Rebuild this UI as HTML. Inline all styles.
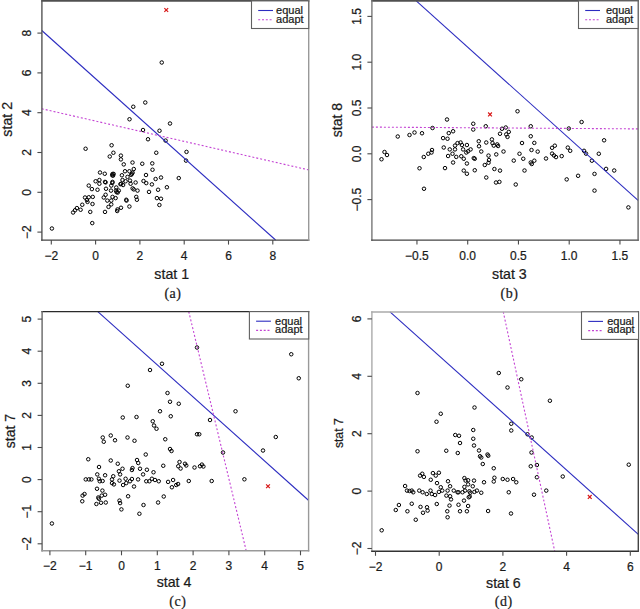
<!DOCTYPE html><html><head><meta charset="utf-8"><style>html,body{margin:0;padding:0;background:#fff;}svg{display:block;}text{stroke:#1a1a1a;stroke-width:0.22px;}</style></head><body><svg width="640" height="609" viewBox="0 0 640 609"><rect width="640" height="609" fill="#fff"/><g><g fill="none" stroke="#000" stroke-width="1.0"><circle cx="161.75" cy="62.50" r="1.75"/><circle cx="133.25" cy="106.75" r="1.75"/><circle cx="145.25" cy="102.50" r="1.75"/><circle cx="129.50" cy="119.25" r="1.75"/><circle cx="170.00" cy="123.50" r="1.75"/><circle cx="143.00" cy="130.00" r="1.75"/><circle cx="159.50" cy="130.75" r="1.75"/><circle cx="148.00" cy="139.25" r="1.75"/><circle cx="165.60" cy="140.60" r="1.75"/><circle cx="85.60" cy="148.75" r="1.75"/><circle cx="111.60" cy="145.25" r="1.75"/><circle cx="113.40" cy="152.75" r="1.75"/><circle cx="109.75" cy="156.50" r="1.75"/><circle cx="120.90" cy="155.60" r="1.75"/><circle cx="120.90" cy="159.40" r="1.75"/><circle cx="123.75" cy="164.40" r="1.75"/><circle cx="132.50" cy="162.50" r="1.75"/><circle cx="133.75" cy="169.00" r="1.75"/><circle cx="100.00" cy="172.50" r="1.75"/><circle cx="104.75" cy="173.75" r="1.75"/><circle cx="112.50" cy="174.00" r="1.75"/><circle cx="113.10" cy="175.60" r="1.75"/><circle cx="121.90" cy="175.25" r="1.75"/><circle cx="125.00" cy="171.25" r="1.75"/><circle cx="129.40" cy="171.25" r="1.75"/><circle cx="131.90" cy="173.75" r="1.75"/><circle cx="127.50" cy="176.90" r="1.75"/><circle cx="95.60" cy="181.25" r="1.75"/><circle cx="99.40" cy="180.00" r="1.75"/><circle cx="99.40" cy="183.75" r="1.75"/><circle cx="105.00" cy="181.90" r="1.75"/><circle cx="112.50" cy="181.90" r="1.75"/><circle cx="111.25" cy="185.60" r="1.75"/><circle cx="122.50" cy="180.00" r="1.75"/><circle cx="125.60" cy="181.25" r="1.75"/><circle cx="121.25" cy="183.75" r="1.75"/><circle cx="123.10" cy="185.00" r="1.75"/><circle cx="130.00" cy="180.60" r="1.75"/><circle cx="130.60" cy="183.75" r="1.75"/><circle cx="135.60" cy="182.50" r="1.75"/><circle cx="88.75" cy="185.60" r="1.75"/><circle cx="91.90" cy="189.10" r="1.75"/><circle cx="97.50" cy="189.75" r="1.75"/><circle cx="106.00" cy="188.75" r="1.75"/><circle cx="111.00" cy="190.60" r="1.75"/><circle cx="116.00" cy="190.60" r="1.75"/><circle cx="117.75" cy="192.50" r="1.75"/><circle cx="116.25" cy="187.50" r="1.75"/><circle cx="133.75" cy="189.40" r="1.75"/><circle cx="137.50" cy="190.60" r="1.75"/><circle cx="85.00" cy="197.50" r="1.75"/><circle cx="88.75" cy="197.25" r="1.75"/><circle cx="92.75" cy="196.90" r="1.75"/><circle cx="105.60" cy="194.75" r="1.75"/><circle cx="103.75" cy="197.50" r="1.75"/><circle cx="112.50" cy="196.90" r="1.75"/><circle cx="115.60" cy="198.10" r="1.75"/><circle cx="126.25" cy="199.75" r="1.75"/><circle cx="136.25" cy="196.90" r="1.75"/><circle cx="156.25" cy="152.75" r="1.75"/><circle cx="186.50" cy="151.90" r="1.75"/><circle cx="186.00" cy="160.60" r="1.75"/><circle cx="142.25" cy="163.75" r="1.75"/><circle cx="152.25" cy="163.40" r="1.75"/><circle cx="152.50" cy="169.75" r="1.75"/><circle cx="146.00" cy="175.00" r="1.75"/><circle cx="155.60" cy="179.00" r="1.75"/><circle cx="161.00" cy="177.50" r="1.75"/><circle cx="178.75" cy="178.10" r="1.75"/><circle cx="143.50" cy="181.00" r="1.75"/><circle cx="146.25" cy="183.10" r="1.75"/><circle cx="151.90" cy="184.40" r="1.75"/><circle cx="166.90" cy="187.25" r="1.75"/><circle cx="158.10" cy="189.75" r="1.75"/><circle cx="149.00" cy="191.90" r="1.75"/><circle cx="156.90" cy="198.10" r="1.75"/><circle cx="161.00" cy="198.75" r="1.75"/><circle cx="51.90" cy="228.50" r="1.75"/><circle cx="92.25" cy="223.10" r="1.75"/><circle cx="90.25" cy="211.90" r="1.75"/><circle cx="105.00" cy="211.90" r="1.75"/><circle cx="73.10" cy="212.50" r="1.75"/><circle cx="75.00" cy="210.25" r="1.75"/><circle cx="76.90" cy="208.10" r="1.75"/><circle cx="80.60" cy="209.75" r="1.75"/><circle cx="82.25" cy="204.75" r="1.75"/><circle cx="92.50" cy="204.00" r="1.75"/><circle cx="87.50" cy="201.90" r="1.75"/><circle cx="107.30" cy="200.60" r="1.75"/><circle cx="111.25" cy="204.40" r="1.75"/><circle cx="108.50" cy="206.90" r="1.75"/><circle cx="117.50" cy="209.40" r="1.75"/><circle cx="86.90" cy="200.00" r="1.75"/><circle cx="117.20" cy="211.00" r="1.75"/><circle cx="121.00" cy="207.75" r="1.75"/><circle cx="129.40" cy="206.50" r="1.75"/><circle cx="126.50" cy="200.60" r="1.75"/><circle cx="136.90" cy="199.75" r="1.75"/><circle cx="111.25" cy="200.60" r="1.75"/><circle cx="159.40" cy="205.00" r="1.75"/><circle cx="112.20" cy="175.30" r="1.75"/><circle cx="113.60" cy="173.90" r="1.75"/><circle cx="131.20" cy="174.80" r="1.75"/><circle cx="132.60" cy="172.60" r="1.75"/><circle cx="116.60" cy="192.20" r="1.75"/><circle cx="118.80" cy="190.60" r="1.75"/><circle cx="112.30" cy="182.90" r="1.75"/><circle cx="105.60" cy="182.40" r="1.75"/><circle cx="132.60" cy="188.40" r="1.75"/><circle cx="120.40" cy="184.20" r="1.75"/></g><line x1="41.8" y1="30.5" x2="275.6" y2="240.0" stroke="#2c2cc0" stroke-width="1.1"/><line x1="41.8" y1="108.75" x2="308.6" y2="169.9" stroke="#c444d4" stroke-width="1.1" stroke-dasharray="2 2"/><path d="M164.35,8.1L168.15,11.9M164.35,11.9L168.15,8.1" stroke="#d81818" stroke-width="1.2"/><path d="M41.199999999999996,0.9H309.4" stroke="#505050" stroke-width="1.9"/><path d="M41.9,0.20000000000000007V240.79999999999998" stroke="#555" stroke-width="1.4"/><path d="M41.199999999999996,240.1H309.4" stroke="#444" stroke-width="1.4"/><path d="M308.7,0.20000000000000007V240.79999999999998" stroke="#999" stroke-width="1.4"/><line x1="51.30" y1="240.1" x2="51.30" y2="244.6" stroke="#4a4a4a" stroke-width="1.1"/><text x="51.30" y="259.70" font-family='"Liberation Sans", sans-serif' font-size="12" text-anchor="middle" fill="#1a1a1a">−2</text><line x1="95.60" y1="240.1" x2="95.60" y2="244.6" stroke="#4a4a4a" stroke-width="1.1"/><text x="95.60" y="259.70" font-family='"Liberation Sans", sans-serif' font-size="12" text-anchor="middle" fill="#1a1a1a">0</text><line x1="139.90" y1="240.1" x2="139.90" y2="244.6" stroke="#4a4a4a" stroke-width="1.1"/><text x="139.90" y="259.70" font-family='"Liberation Sans", sans-serif' font-size="12" text-anchor="middle" fill="#1a1a1a">2</text><line x1="184.20" y1="240.1" x2="184.20" y2="244.6" stroke="#4a4a4a" stroke-width="1.1"/><text x="184.20" y="259.70" font-family='"Liberation Sans", sans-serif' font-size="12" text-anchor="middle" fill="#1a1a1a">4</text><line x1="228.50" y1="240.1" x2="228.50" y2="244.6" stroke="#4a4a4a" stroke-width="1.1"/><text x="228.50" y="259.70" font-family='"Liberation Sans", sans-serif' font-size="12" text-anchor="middle" fill="#1a1a1a">6</text><line x1="272.80" y1="240.1" x2="272.80" y2="244.6" stroke="#4a4a4a" stroke-width="1.1"/><text x="272.80" y="259.70" font-family='"Liberation Sans", sans-serif' font-size="12" text-anchor="middle" fill="#1a1a1a">8</text><line x1="37.4" y1="232.10" x2="41.9" y2="232.10" stroke="#4a4a4a" stroke-width="1.1"/><text transform="translate(30.5,232.10) rotate(-90)" font-family='"Liberation Sans", sans-serif' font-size="12" text-anchor="middle" fill="#1a1a1a">−2</text><line x1="37.4" y1="192.30" x2="41.9" y2="192.30" stroke="#4a4a4a" stroke-width="1.1"/><text transform="translate(30.5,192.30) rotate(-90)" font-family='"Liberation Sans", sans-serif' font-size="12" text-anchor="middle" fill="#1a1a1a">0</text><line x1="37.4" y1="152.50" x2="41.9" y2="152.50" stroke="#4a4a4a" stroke-width="1.1"/><text transform="translate(30.5,152.50) rotate(-90)" font-family='"Liberation Sans", sans-serif' font-size="12" text-anchor="middle" fill="#1a1a1a">2</text><line x1="37.4" y1="112.70" x2="41.9" y2="112.70" stroke="#4a4a4a" stroke-width="1.1"/><text transform="translate(30.5,112.70) rotate(-90)" font-family='"Liberation Sans", sans-serif' font-size="12" text-anchor="middle" fill="#1a1a1a">4</text><line x1="37.4" y1="72.90" x2="41.9" y2="72.90" stroke="#4a4a4a" stroke-width="1.1"/><text transform="translate(30.5,72.90) rotate(-90)" font-family='"Liberation Sans", sans-serif' font-size="12" text-anchor="middle" fill="#1a1a1a">6</text><line x1="37.4" y1="33.10" x2="41.9" y2="33.10" stroke="#4a4a4a" stroke-width="1.1"/><text transform="translate(30.5,33.10) rotate(-90)" font-family='"Liberation Sans", sans-serif' font-size="12" text-anchor="middle" fill="#1a1a1a">8</text><text x="171.7" y="279.2" font-family='"Liberation Sans", sans-serif' font-size="14.2" text-anchor="middle" fill="#1a1a1a">stat 1</text><text x="172.9" y="297.5" font-family='"Liberation Serif", serif' font-size="14" letter-spacing="0.5" text-anchor="middle" fill="#1a1a1a">(a)</text><text transform="translate(12.2,119.3) rotate(-90)" font-family='"Liberation Sans", sans-serif' font-size="14.2" text-anchor="middle" fill="#1a1a1a">stat 2</text><rect x="251.5" y="0.9" width="57.19999999999999" height="27.6" fill="#fff" stroke="#606060" stroke-width="1.1"/><line x1="258.2" y1="10.5" x2="273.0" y2="10.5" stroke="#2c2cc0" stroke-width="1.1"/><line x1="258.2" y1="19.7" x2="273.0" y2="19.7" stroke="#c444d4" stroke-width="1.1" stroke-dasharray="2 1.8"/><text x="276.09999999999997" y="13.9" font-family='"Liberation Sans", sans-serif' font-size="11" fill="#1a1a1a">equal</text><text x="276.09999999999997" y="22.5" font-family='"Liberation Sans", sans-serif' font-size="11" fill="#1a1a1a">adapt</text></g><g><g fill="none" stroke="#000" stroke-width="1.0"><circle cx="381.50" cy="159.25" r="1.75"/><circle cx="384.50" cy="152.00" r="1.75"/><circle cx="387.00" cy="155.00" r="1.75"/><circle cx="397.75" cy="136.50" r="1.75"/><circle cx="409.50" cy="135.00" r="1.75"/><circle cx="414.50" cy="132.50" r="1.75"/><circle cx="422.00" cy="133.25" r="1.75"/><circle cx="432.50" cy="128.00" r="1.75"/><circle cx="447.00" cy="119.50" r="1.75"/><circle cx="419.50" cy="168.25" r="1.75"/><circle cx="424.00" cy="188.75" r="1.75"/><circle cx="423.75" cy="157.00" r="1.75"/><circle cx="428.25" cy="153.75" r="1.75"/><circle cx="431.50" cy="152.50" r="1.75"/><circle cx="432.00" cy="150.00" r="1.75"/><circle cx="473.25" cy="123.75" r="1.75"/><circle cx="473.25" cy="129.50" r="1.75"/><circle cx="485.75" cy="126.25" r="1.75"/><circle cx="502.00" cy="128.75" r="1.75"/><circle cx="505.75" cy="127.50" r="1.75"/><circle cx="517.50" cy="111.25" r="1.75"/><circle cx="522.00" cy="143.00" r="1.75"/><circle cx="519.50" cy="153.75" r="1.75"/><circle cx="523.25" cy="158.75" r="1.75"/><circle cx="524.50" cy="170.50" r="1.75"/><circle cx="515.75" cy="184.50" r="1.75"/><circle cx="530.75" cy="126.25" r="1.75"/><circle cx="530.75" cy="136.25" r="1.75"/><circle cx="531.50" cy="150.00" r="1.75"/><circle cx="530.75" cy="162.50" r="1.75"/><circle cx="453.10" cy="131.25" r="1.75"/><circle cx="448.75" cy="133.10" r="1.75"/><circle cx="443.10" cy="138.10" r="1.75"/><circle cx="447.50" cy="138.75" r="1.75"/><circle cx="443.75" cy="147.50" r="1.75"/><circle cx="449.75" cy="149.40" r="1.75"/><circle cx="455.00" cy="145.60" r="1.75"/><circle cx="457.50" cy="143.10" r="1.75"/><circle cx="460.60" cy="142.50" r="1.75"/><circle cx="461.90" cy="145.00" r="1.75"/><circle cx="466.90" cy="145.00" r="1.75"/><circle cx="455.00" cy="149.40" r="1.75"/><circle cx="463.10" cy="149.40" r="1.75"/><circle cx="466.25" cy="152.50" r="1.75"/><circle cx="470.60" cy="149.40" r="1.75"/><circle cx="468.10" cy="151.25" r="1.75"/><circle cx="452.50" cy="153.75" r="1.75"/><circle cx="448.10" cy="156.00" r="1.75"/><circle cx="456.25" cy="156.90" r="1.75"/><circle cx="461.25" cy="156.25" r="1.75"/><circle cx="463.75" cy="158.75" r="1.75"/><circle cx="453.10" cy="162.50" r="1.75"/><circle cx="466.90" cy="163.50" r="1.75"/><circle cx="473.75" cy="158.10" r="1.75"/><circle cx="474.75" cy="158.75" r="1.75"/><circle cx="445.00" cy="168.10" r="1.75"/><circle cx="463.75" cy="170.60" r="1.75"/><circle cx="466.90" cy="173.75" r="1.75"/><circle cx="474.75" cy="170.25" r="1.75"/><circle cx="478.75" cy="141.25" r="1.75"/><circle cx="479.00" cy="146.25" r="1.75"/><circle cx="481.25" cy="151.50" r="1.75"/><circle cx="486.25" cy="142.50" r="1.75"/><circle cx="491.90" cy="139.40" r="1.75"/><circle cx="492.50" cy="143.10" r="1.75"/><circle cx="493.75" cy="145.60" r="1.75"/><circle cx="497.25" cy="144.40" r="1.75"/><circle cx="498.10" cy="146.00" r="1.75"/><circle cx="488.50" cy="155.60" r="1.75"/><circle cx="489.00" cy="160.00" r="1.75"/><circle cx="488.50" cy="162.75" r="1.75"/><circle cx="484.75" cy="165.00" r="1.75"/><circle cx="496.25" cy="154.40" r="1.75"/><circle cx="503.50" cy="151.50" r="1.75"/><circle cx="494.40" cy="169.00" r="1.75"/><circle cx="500.00" cy="170.60" r="1.75"/><circle cx="486.25" cy="177.50" r="1.75"/><circle cx="496.00" cy="182.50" r="1.75"/><circle cx="499.40" cy="181.90" r="1.75"/><circle cx="500.00" cy="133.75" r="1.75"/><circle cx="506.25" cy="134.40" r="1.75"/><circle cx="508.75" cy="131.90" r="1.75"/><circle cx="507.50" cy="136.90" r="1.75"/><circle cx="513.75" cy="160.60" r="1.75"/><circle cx="534.30" cy="142.90" r="1.75"/><circle cx="537.70" cy="151.60" r="1.75"/><circle cx="531.75" cy="164.00" r="1.75"/><circle cx="534.30" cy="160.70" r="1.75"/><circle cx="546.00" cy="158.50" r="1.75"/><circle cx="552.10" cy="147.80" r="1.75"/><circle cx="554.80" cy="145.70" r="1.75"/><circle cx="552.10" cy="153.60" r="1.75"/><circle cx="554.00" cy="155.50" r="1.75"/><circle cx="556.00" cy="157.10" r="1.75"/><circle cx="561.70" cy="156.10" r="1.75"/><circle cx="566.70" cy="179.40" r="1.75"/><circle cx="567.80" cy="147.60" r="1.75"/><circle cx="570.20" cy="150.80" r="1.75"/><circle cx="568.80" cy="128.50" r="1.75"/><circle cx="581.60" cy="122.00" r="1.75"/><circle cx="578.10" cy="175.80" r="1.75"/><circle cx="584.00" cy="150.80" r="1.75"/><circle cx="586.00" cy="153.60" r="1.75"/><circle cx="591.90" cy="160.70" r="1.75"/><circle cx="598.80" cy="153.75" r="1.75"/><circle cx="604.10" cy="140.30" r="1.75"/><circle cx="594.50" cy="173.90" r="1.75"/><circle cx="594.50" cy="190.60" r="1.75"/><circle cx="606.10" cy="168.90" r="1.75"/><circle cx="614.20" cy="170.50" r="1.75"/><circle cx="628.40" cy="207.40" r="1.75"/></g><line x1="416.25" y1="0.9" x2="638.1" y2="200.3" stroke="#2c2cc0" stroke-width="1.1"/><line x1="371.9" y1="127.1" x2="638.1" y2="128.9" stroke="#c444d4" stroke-width="1.1" stroke-dasharray="2 2"/><path d="M488.1,112.5L491.9,116.30000000000001M488.1,116.30000000000001L491.9,112.5" stroke="#d81818" stroke-width="1.2"/><path d="M371.2,0.9H638.8000000000001" stroke="#505050" stroke-width="1.9"/><path d="M371.9,0.20000000000000007V240.79999999999998" stroke="#777" stroke-width="1.4"/><path d="M371.2,240.1H638.8000000000001" stroke="#444" stroke-width="1.4"/><path d="M638.1,0.20000000000000007V240.79999999999998" stroke="#666" stroke-width="1.4"/><line x1="416.95" y1="240.1" x2="416.95" y2="244.6" stroke="#4a4a4a" stroke-width="1.1"/><text x="416.95" y="259.70" font-family='"Liberation Sans", sans-serif' font-size="12" text-anchor="middle" fill="#1a1a1a">−0.5</text><line x1="467.70" y1="240.1" x2="467.70" y2="244.6" stroke="#4a4a4a" stroke-width="1.1"/><text x="467.70" y="259.70" font-family='"Liberation Sans", sans-serif' font-size="12" text-anchor="middle" fill="#1a1a1a">0.0</text><line x1="518.45" y1="240.1" x2="518.45" y2="244.6" stroke="#4a4a4a" stroke-width="1.1"/><text x="518.45" y="259.70" font-family='"Liberation Sans", sans-serif' font-size="12" text-anchor="middle" fill="#1a1a1a">0.5</text><line x1="569.20" y1="240.1" x2="569.20" y2="244.6" stroke="#4a4a4a" stroke-width="1.1"/><text x="569.20" y="259.70" font-family='"Liberation Sans", sans-serif' font-size="12" text-anchor="middle" fill="#1a1a1a">1.0</text><line x1="619.95" y1="240.1" x2="619.95" y2="244.6" stroke="#4a4a4a" stroke-width="1.1"/><text x="619.95" y="259.70" font-family='"Liberation Sans", sans-serif' font-size="12" text-anchor="middle" fill="#1a1a1a">1.5</text><line x1="367.4" y1="199.60" x2="371.9" y2="199.60" stroke="#4a4a4a" stroke-width="1.1"/><text transform="translate(360.5,199.60) rotate(-90)" font-family='"Liberation Sans", sans-serif' font-size="12" text-anchor="middle" fill="#1a1a1a">−0.5</text><line x1="367.4" y1="153.80" x2="371.9" y2="153.80" stroke="#4a4a4a" stroke-width="1.1"/><text transform="translate(360.5,153.80) rotate(-90)" font-family='"Liberation Sans", sans-serif' font-size="12" text-anchor="middle" fill="#1a1a1a">0.0</text><line x1="367.4" y1="108.00" x2="371.9" y2="108.00" stroke="#4a4a4a" stroke-width="1.1"/><text transform="translate(360.5,108.00) rotate(-90)" font-family='"Liberation Sans", sans-serif' font-size="12" text-anchor="middle" fill="#1a1a1a">0.5</text><line x1="367.4" y1="62.20" x2="371.9" y2="62.20" stroke="#4a4a4a" stroke-width="1.1"/><text transform="translate(360.5,62.20) rotate(-90)" font-family='"Liberation Sans", sans-serif' font-size="12" text-anchor="middle" fill="#1a1a1a">1.0</text><line x1="367.4" y1="16.40" x2="371.9" y2="16.40" stroke="#4a4a4a" stroke-width="1.1"/><text transform="translate(360.5,16.40) rotate(-90)" font-family='"Liberation Sans", sans-serif' font-size="12" text-anchor="middle" fill="#1a1a1a">1.5</text><text x="509.4" y="279.0" font-family='"Liberation Sans", sans-serif' font-size="14.2" text-anchor="middle" fill="#1a1a1a">stat 3</text><text x="509.4" y="297.5" font-family='"Liberation Serif", serif' font-size="14" letter-spacing="0.5" text-anchor="middle" fill="#1a1a1a">(b)</text><text transform="translate(342.0,120.0) rotate(-90)" font-family='"Liberation Sans", sans-serif' font-size="14.0" text-anchor="middle" fill="#1a1a1a">stat 8</text><rect x="578.5" y="0.9" width="59.60000000000002" height="27.6" fill="#fff" stroke="#606060" stroke-width="1.1"/><line x1="585.2" y1="10.5" x2="600.0" y2="10.5" stroke="#2c2cc0" stroke-width="1.1"/><line x1="585.2" y1="19.7" x2="600.0" y2="19.7" stroke="#c444d4" stroke-width="1.1" stroke-dasharray="2 1.8"/><text x="605.9" y="13.9" font-family='"Liberation Sans", sans-serif' font-size="11" fill="#1a1a1a">equal</text><text x="605.9" y="22.5" font-family='"Liberation Sans", sans-serif' font-size="11" fill="#1a1a1a">adapt</text></g><g><g fill="none" stroke="#000" stroke-width="1.0"><circle cx="162.00" cy="363.75" r="1.75"/><circle cx="150.00" cy="370.00" r="1.75"/><circle cx="127.75" cy="385.75" r="1.75"/><circle cx="167.50" cy="393.00" r="1.75"/><circle cx="170.00" cy="401.75" r="1.75"/><circle cx="178.75" cy="403.75" r="1.75"/><circle cx="160.00" cy="411.25" r="1.75"/><circle cx="170.75" cy="416.25" r="1.75"/><circle cx="122.75" cy="417.50" r="1.75"/><circle cx="136.50" cy="417.00" r="1.75"/><circle cx="152.75" cy="421.25" r="1.75"/><circle cx="154.00" cy="425.50" r="1.75"/><circle cx="156.50" cy="428.75" r="1.75"/><circle cx="197.00" cy="434.25" r="1.75"/><circle cx="199.25" cy="434.25" r="1.75"/><circle cx="110.75" cy="435.50" r="1.75"/><circle cx="102.75" cy="437.50" r="1.75"/><circle cx="103.75" cy="441.75" r="1.75"/><circle cx="115.00" cy="440.25" r="1.75"/><circle cx="127.50" cy="437.50" r="1.75"/><circle cx="134.50" cy="440.75" r="1.75"/><circle cx="165.25" cy="439.25" r="1.75"/><circle cx="170.00" cy="449.00" r="1.75"/><circle cx="171.50" cy="451.00" r="1.75"/><circle cx="145.75" cy="454.50" r="1.75"/><circle cx="88.25" cy="459.25" r="1.75"/><circle cx="110.75" cy="460.50" r="1.75"/><circle cx="117.75" cy="463.75" r="1.75"/><circle cx="137.00" cy="460.00" r="1.75"/><circle cx="138.25" cy="463.00" r="1.75"/><circle cx="163.25" cy="465.75" r="1.75"/><circle cx="179.50" cy="462.00" r="1.75"/><circle cx="185.00" cy="463.75" r="1.75"/><circle cx="186.25" cy="465.50" r="1.75"/><circle cx="178.25" cy="466.25" r="1.75"/><circle cx="194.50" cy="467.50" r="1.75"/><circle cx="200.00" cy="466.25" r="1.75"/><circle cx="99.00" cy="467.00" r="1.75"/><circle cx="97.25" cy="474.40" r="1.75"/><circle cx="105.10" cy="475.25" r="1.75"/><circle cx="113.25" cy="476.25" r="1.75"/><circle cx="118.90" cy="471.25" r="1.75"/><circle cx="120.10" cy="474.40" r="1.75"/><circle cx="85.75" cy="479.40" r="1.75"/><circle cx="88.90" cy="479.40" r="1.75"/><circle cx="91.40" cy="479.40" r="1.75"/><circle cx="98.90" cy="478.75" r="1.75"/><circle cx="99.75" cy="481.25" r="1.75"/><circle cx="102.60" cy="481.00" r="1.75"/><circle cx="112.00" cy="479.40" r="1.75"/><circle cx="112.00" cy="483.10" r="1.75"/><circle cx="113.90" cy="484.40" r="1.75"/><circle cx="119.50" cy="480.60" r="1.75"/><circle cx="97.00" cy="488.75" r="1.75"/><circle cx="102.40" cy="490.60" r="1.75"/><circle cx="105.10" cy="494.75" r="1.75"/><circle cx="101.75" cy="495.60" r="1.75"/><circle cx="84.50" cy="494.00" r="1.75"/><circle cx="82.60" cy="495.60" r="1.75"/><circle cx="82.25" cy="501.25" r="1.75"/><circle cx="98.25" cy="497.50" r="1.75"/><circle cx="98.90" cy="498.75" r="1.75"/><circle cx="96.40" cy="504.00" r="1.75"/><circle cx="101.00" cy="502.75" r="1.75"/><circle cx="105.75" cy="502.50" r="1.75"/><circle cx="119.50" cy="500.60" r="1.75"/><circle cx="120.10" cy="503.10" r="1.75"/><circle cx="121.40" cy="509.40" r="1.75"/><circle cx="180.60" cy="468.50" r="1.75"/><circle cx="122.50" cy="468.75" r="1.75"/><circle cx="132.50" cy="468.10" r="1.75"/><circle cx="131.90" cy="470.00" r="1.75"/><circle cx="140.00" cy="468.75" r="1.75"/><circle cx="146.90" cy="469.75" r="1.75"/><circle cx="143.10" cy="474.40" r="1.75"/><circle cx="153.50" cy="472.25" r="1.75"/><circle cx="125.60" cy="478.75" r="1.75"/><circle cx="126.25" cy="483.10" r="1.75"/><circle cx="123.10" cy="485.00" r="1.75"/><circle cx="130.00" cy="481.25" r="1.75"/><circle cx="131.90" cy="479.00" r="1.75"/><circle cx="138.10" cy="479.40" r="1.75"/><circle cx="134.00" cy="486.50" r="1.75"/><circle cx="146.25" cy="481.25" r="1.75"/><circle cx="149.40" cy="481.25" r="1.75"/><circle cx="151.90" cy="478.75" r="1.75"/><circle cx="155.00" cy="480.00" r="1.75"/><circle cx="158.75" cy="481.25" r="1.75"/><circle cx="168.10" cy="481.90" r="1.75"/><circle cx="173.10" cy="480.00" r="1.75"/><circle cx="171.90" cy="487.25" r="1.75"/><circle cx="176.25" cy="485.00" r="1.75"/><circle cx="178.10" cy="484.00" r="1.75"/><circle cx="188.75" cy="481.00" r="1.75"/><circle cx="128.10" cy="496.25" r="1.75"/><circle cx="143.50" cy="505.00" r="1.75"/><circle cx="158.10" cy="502.50" r="1.75"/><circle cx="163.75" cy="496.50" r="1.75"/><circle cx="139.40" cy="513.75" r="1.75"/><circle cx="197.00" cy="347.50" r="1.75"/><circle cx="291.25" cy="354.25" r="1.75"/><circle cx="298.75" cy="378.25" r="1.75"/><circle cx="210.00" cy="420.00" r="1.75"/><circle cx="235.50" cy="411.25" r="1.75"/><circle cx="223.00" cy="452.50" r="1.75"/><circle cx="263.00" cy="450.50" r="1.75"/><circle cx="275.75" cy="437.00" r="1.75"/><circle cx="201.90" cy="464.60" r="1.75"/><circle cx="203.40" cy="466.50" r="1.75"/><circle cx="211.70" cy="481.00" r="1.75"/><circle cx="244.40" cy="479.30" r="1.75"/><circle cx="51.90" cy="523.50" r="1.75"/></g><line x1="97.8" y1="311.6" x2="308.7" y2="500.5" stroke="#2c2cc0" stroke-width="1.1"/><line x1="188.75" y1="311.6" x2="246.3" y2="551.2" stroke="#c444d4" stroke-width="1.1" stroke-dasharray="2 2"/><path d="M266.1,484.40000000000003L269.9,488.2M266.1,488.2L269.9,484.40000000000003" stroke="#d81818" stroke-width="1.2"/><path d="M41.4,311.6H309.3" stroke="#2a2a2a" stroke-width="1.4"/><path d="M42.1,310.90000000000003V551.5" stroke="#666" stroke-width="1.4"/><path d="M41.4,550.8H309.3" stroke="#999" stroke-width="1.4"/><path d="M308.6,310.90000000000003V551.5" stroke="#999" stroke-width="1.4"/><line x1="49.90" y1="550.8" x2="49.90" y2="555.3" stroke="#4a4a4a" stroke-width="1.1"/><text x="49.90" y="570.40" font-family='"Liberation Sans", sans-serif' font-size="12" text-anchor="middle" fill="#1a1a1a">−2</text><line x1="85.70" y1="550.8" x2="85.70" y2="555.3" stroke="#4a4a4a" stroke-width="1.1"/><text x="85.70" y="570.40" font-family='"Liberation Sans", sans-serif' font-size="12" text-anchor="middle" fill="#1a1a1a">−1</text><line x1="121.50" y1="550.8" x2="121.50" y2="555.3" stroke="#4a4a4a" stroke-width="1.1"/><text x="121.50" y="570.40" font-family='"Liberation Sans", sans-serif' font-size="12" text-anchor="middle" fill="#1a1a1a">0</text><line x1="157.30" y1="550.8" x2="157.30" y2="555.3" stroke="#4a4a4a" stroke-width="1.1"/><text x="157.30" y="570.40" font-family='"Liberation Sans", sans-serif' font-size="12" text-anchor="middle" fill="#1a1a1a">1</text><line x1="193.10" y1="550.8" x2="193.10" y2="555.3" stroke="#4a4a4a" stroke-width="1.1"/><text x="193.10" y="570.40" font-family='"Liberation Sans", sans-serif' font-size="12" text-anchor="middle" fill="#1a1a1a">2</text><line x1="228.90" y1="550.8" x2="228.90" y2="555.3" stroke="#4a4a4a" stroke-width="1.1"/><text x="228.90" y="570.40" font-family='"Liberation Sans", sans-serif' font-size="12" text-anchor="middle" fill="#1a1a1a">3</text><line x1="264.70" y1="550.8" x2="264.70" y2="555.3" stroke="#4a4a4a" stroke-width="1.1"/><text x="264.70" y="570.40" font-family='"Liberation Sans", sans-serif' font-size="12" text-anchor="middle" fill="#1a1a1a">4</text><line x1="300.50" y1="550.8" x2="300.50" y2="555.3" stroke="#4a4a4a" stroke-width="1.1"/><text x="300.50" y="570.40" font-family='"Liberation Sans", sans-serif' font-size="12" text-anchor="middle" fill="#1a1a1a">5</text><line x1="37.6" y1="543.80" x2="42.1" y2="543.80" stroke="#4a4a4a" stroke-width="1.1"/><text transform="translate(30.5,543.80) rotate(-90)" font-family='"Liberation Sans", sans-serif' font-size="12" text-anchor="middle" fill="#1a1a1a">−2</text><line x1="37.6" y1="511.70" x2="42.1" y2="511.70" stroke="#4a4a4a" stroke-width="1.1"/><text transform="translate(30.5,511.70) rotate(-90)" font-family='"Liberation Sans", sans-serif' font-size="12" text-anchor="middle" fill="#1a1a1a">−1</text><line x1="37.6" y1="479.60" x2="42.1" y2="479.60" stroke="#4a4a4a" stroke-width="1.1"/><text transform="translate(30.5,479.60) rotate(-90)" font-family='"Liberation Sans", sans-serif' font-size="12" text-anchor="middle" fill="#1a1a1a">0</text><line x1="37.6" y1="447.50" x2="42.1" y2="447.50" stroke="#4a4a4a" stroke-width="1.1"/><text transform="translate(30.5,447.50) rotate(-90)" font-family='"Liberation Sans", sans-serif' font-size="12" text-anchor="middle" fill="#1a1a1a">1</text><line x1="37.6" y1="415.40" x2="42.1" y2="415.40" stroke="#4a4a4a" stroke-width="1.1"/><text transform="translate(30.5,415.40) rotate(-90)" font-family='"Liberation Sans", sans-serif' font-size="12" text-anchor="middle" fill="#1a1a1a">2</text><line x1="37.6" y1="383.30" x2="42.1" y2="383.30" stroke="#4a4a4a" stroke-width="1.1"/><text transform="translate(30.5,383.30) rotate(-90)" font-family='"Liberation Sans", sans-serif' font-size="12" text-anchor="middle" fill="#1a1a1a">3</text><line x1="37.6" y1="351.20" x2="42.1" y2="351.20" stroke="#4a4a4a" stroke-width="1.1"/><text transform="translate(30.5,351.20) rotate(-90)" font-family='"Liberation Sans", sans-serif' font-size="12" text-anchor="middle" fill="#1a1a1a">4</text><line x1="37.6" y1="319.10" x2="42.1" y2="319.10" stroke="#4a4a4a" stroke-width="1.1"/><text transform="translate(30.5,319.10) rotate(-90)" font-family='"Liberation Sans", sans-serif' font-size="12" text-anchor="middle" fill="#1a1a1a">5</text><text x="174.0" y="587.25" font-family='"Liberation Sans", sans-serif' font-size="14.2" text-anchor="middle" fill="#1a1a1a">stat 4</text><text x="177.8" y="605.6" font-family='"Liberation Serif", serif' font-size="14" letter-spacing="0.5" text-anchor="middle" fill="#1a1a1a">(c)</text><text transform="translate(15.0,431.0) rotate(-90)" font-family='"Liberation Sans", sans-serif' font-size="14.0" text-anchor="middle" fill="#1a1a1a">stat 7</text><rect x="249.4" y="311.6" width="59.29999999999998" height="27.399999999999977" fill="#fff" stroke="#606060" stroke-width="1.1"/><line x1="256.1" y1="321.20000000000005" x2="270.9" y2="321.20000000000005" stroke="#2c2cc0" stroke-width="1.1"/><line x1="256.1" y1="330.40000000000003" x2="270.9" y2="330.40000000000003" stroke="#c444d4" stroke-width="1.1" stroke-dasharray="2 1.8"/><text x="275.09999999999997" y="324.6" font-family='"Liberation Sans", sans-serif' font-size="11" fill="#1a1a1a">equal</text><text x="275.09999999999997" y="333.20000000000005" font-family='"Liberation Sans", sans-serif' font-size="11" fill="#1a1a1a">adapt</text></g><g><g fill="none" stroke="#000" stroke-width="1.0"><circle cx="498.75" cy="373.00" r="1.75"/><circle cx="521.25" cy="379.25" r="1.75"/><circle cx="507.50" cy="387.50" r="1.75"/><circle cx="417.50" cy="393.00" r="1.75"/><circle cx="474.50" cy="407.50" r="1.75"/><circle cx="440.75" cy="413.75" r="1.75"/><circle cx="436.50" cy="421.75" r="1.75"/><circle cx="511.25" cy="423.75" r="1.75"/><circle cx="511.25" cy="430.50" r="1.75"/><circle cx="527.50" cy="434.25" r="1.75"/><circle cx="531.70" cy="437.50" r="1.75"/><circle cx="473.25" cy="430.00" r="1.75"/><circle cx="455.25" cy="435.00" r="1.75"/><circle cx="459.00" cy="435.75" r="1.75"/><circle cx="473.25" cy="438.75" r="1.75"/><circle cx="460.00" cy="443.00" r="1.75"/><circle cx="474.00" cy="445.50" r="1.75"/><circle cx="417.50" cy="451.25" r="1.75"/><circle cx="446.25" cy="450.75" r="1.75"/><circle cx="457.75" cy="453.00" r="1.75"/><circle cx="479.00" cy="450.50" r="1.75"/><circle cx="480.00" cy="456.25" r="1.75"/><circle cx="481.25" cy="457.50" r="1.75"/><circle cx="487.50" cy="454.50" r="1.75"/><circle cx="488.25" cy="455.75" r="1.75"/><circle cx="482.75" cy="464.00" r="1.75"/><circle cx="493.75" cy="468.25" r="1.75"/><circle cx="531.50" cy="452.50" r="1.75"/><circle cx="530.75" cy="466.25" r="1.75"/><circle cx="549.90" cy="400.75" r="1.75"/><circle cx="420.10" cy="475.60" r="1.75"/><circle cx="422.25" cy="473.75" r="1.75"/><circle cx="423.90" cy="476.90" r="1.75"/><circle cx="432.90" cy="473.10" r="1.75"/><circle cx="435.75" cy="475.60" r="1.75"/><circle cx="438.90" cy="472.75" r="1.75"/><circle cx="430.75" cy="479.75" r="1.75"/><circle cx="437.00" cy="483.10" r="1.75"/><circle cx="448.00" cy="481.25" r="1.75"/><circle cx="450.10" cy="486.25" r="1.75"/><circle cx="440.75" cy="487.25" r="1.75"/><circle cx="405.10" cy="486.00" r="1.75"/><circle cx="407.00" cy="490.60" r="1.75"/><circle cx="409.50" cy="491.00" r="1.75"/><circle cx="411.75" cy="490.60" r="1.75"/><circle cx="413.25" cy="492.25" r="1.75"/><circle cx="419.25" cy="490.60" r="1.75"/><circle cx="422.60" cy="492.25" r="1.75"/><circle cx="426.75" cy="494.00" r="1.75"/><circle cx="430.50" cy="490.60" r="1.75"/><circle cx="431.75" cy="494.00" r="1.75"/><circle cx="435.10" cy="495.00" r="1.75"/><circle cx="438.90" cy="491.90" r="1.75"/><circle cx="442.25" cy="490.60" r="1.75"/><circle cx="447.60" cy="490.60" r="1.75"/><circle cx="446.40" cy="495.60" r="1.75"/><circle cx="450.10" cy="496.25" r="1.75"/><circle cx="451.00" cy="499.40" r="1.75"/><circle cx="398.90" cy="505.00" r="1.75"/><circle cx="395.75" cy="510.00" r="1.75"/><circle cx="411.75" cy="503.75" r="1.75"/><circle cx="407.40" cy="511.25" r="1.75"/><circle cx="420.50" cy="506.90" r="1.75"/><circle cx="427.00" cy="507.25" r="1.75"/><circle cx="427.60" cy="510.60" r="1.75"/><circle cx="423.00" cy="512.75" r="1.75"/><circle cx="436.75" cy="504.00" r="1.75"/><circle cx="449.50" cy="505.60" r="1.75"/><circle cx="447.25" cy="511.25" r="1.75"/><circle cx="447.60" cy="517.25" r="1.75"/><circle cx="415.75" cy="519.75" r="1.75"/><circle cx="453.75" cy="490.60" r="1.75"/><circle cx="457.50" cy="492.25" r="1.75"/><circle cx="458.50" cy="492.25" r="1.75"/><circle cx="462.50" cy="492.25" r="1.75"/><circle cx="464.40" cy="478.10" r="1.75"/><circle cx="465.60" cy="480.60" r="1.75"/><circle cx="468.10" cy="480.25" r="1.75"/><circle cx="474.00" cy="480.60" r="1.75"/><circle cx="468.10" cy="484.40" r="1.75"/><circle cx="464.40" cy="486.90" r="1.75"/><circle cx="472.75" cy="486.25" r="1.75"/><circle cx="465.00" cy="490.60" r="1.75"/><circle cx="469.40" cy="491.25" r="1.75"/><circle cx="470.25" cy="492.75" r="1.75"/><circle cx="474.40" cy="491.90" r="1.75"/><circle cx="476.90" cy="490.60" r="1.75"/><circle cx="481.25" cy="492.75" r="1.75"/><circle cx="468.75" cy="497.25" r="1.75"/><circle cx="469.75" cy="496.50" r="1.75"/><circle cx="464.00" cy="500.60" r="1.75"/><circle cx="458.50" cy="504.75" r="1.75"/><circle cx="468.10" cy="506.00" r="1.75"/><circle cx="460.00" cy="511.25" r="1.75"/><circle cx="466.90" cy="511.25" r="1.75"/><circle cx="484.00" cy="482.25" r="1.75"/><circle cx="494.40" cy="477.75" r="1.75"/><circle cx="493.75" cy="481.50" r="1.75"/><circle cx="502.75" cy="479.00" r="1.75"/><circle cx="507.50" cy="479.75" r="1.75"/><circle cx="513.10" cy="479.00" r="1.75"/><circle cx="516.25" cy="482.25" r="1.75"/><circle cx="508.75" cy="492.25" r="1.75"/><circle cx="488.10" cy="511.00" r="1.75"/><circle cx="511.00" cy="513.50" r="1.75"/><circle cx="628.75" cy="464.70" r="1.75"/><circle cx="536.90" cy="465.00" r="1.75"/><circle cx="536.90" cy="477.25" r="1.75"/><circle cx="562.75" cy="476.50" r="1.75"/><circle cx="546.25" cy="490.60" r="1.75"/><circle cx="534.00" cy="494.70" r="1.75"/><circle cx="381.70" cy="530.30" r="1.75"/></g><line x1="390.0" y1="311.8" x2="638.6" y2="534.6" stroke="#2c2cc0" stroke-width="1.1"/><line x1="503.25" y1="311.8" x2="554.7" y2="551.2" stroke="#c444d4" stroke-width="1.1" stroke-dasharray="2 2"/><path d="M587.85,495.0L591.65,498.79999999999995M587.85,498.79999999999995L591.65,495.0" stroke="#d81818" stroke-width="1.2"/><path d="M371.2,312.0H639.0" stroke="#aaa" stroke-width="1.4"/><path d="M371.9,311.3V552.0" stroke="#aaa" stroke-width="1.4"/><path d="M371.2,551.3H639.0" stroke="#333" stroke-width="1.4"/><path d="M638.3,311.3V552.0" stroke="#444" stroke-width="1.4"/><line x1="375.50" y1="551.3" x2="375.50" y2="555.8" stroke="#4a4a4a" stroke-width="1.1"/><text x="375.50" y="570.90" font-family='"Liberation Sans", sans-serif' font-size="12" text-anchor="middle" fill="#1a1a1a">−2</text><line x1="439.20" y1="551.3" x2="439.20" y2="555.8" stroke="#4a4a4a" stroke-width="1.1"/><text x="439.20" y="570.90" font-family='"Liberation Sans", sans-serif' font-size="12" text-anchor="middle" fill="#1a1a1a">0</text><line x1="502.90" y1="551.3" x2="502.90" y2="555.8" stroke="#4a4a4a" stroke-width="1.1"/><text x="502.90" y="570.90" font-family='"Liberation Sans", sans-serif' font-size="12" text-anchor="middle" fill="#1a1a1a">2</text><line x1="566.60" y1="551.3" x2="566.60" y2="555.8" stroke="#4a4a4a" stroke-width="1.1"/><text x="566.60" y="570.90" font-family='"Liberation Sans", sans-serif' font-size="12" text-anchor="middle" fill="#1a1a1a">4</text><line x1="630.30" y1="551.3" x2="630.30" y2="555.8" stroke="#4a4a4a" stroke-width="1.1"/><text x="630.30" y="570.90" font-family='"Liberation Sans", sans-serif' font-size="12" text-anchor="middle" fill="#1a1a1a">6</text><line x1="367.4" y1="548.50" x2="371.9" y2="548.50" stroke="#4a4a4a" stroke-width="1.1"/><text transform="translate(360.5,548.50) rotate(-90)" font-family='"Liberation Sans", sans-serif' font-size="12" text-anchor="middle" fill="#1a1a1a">−2</text><line x1="367.4" y1="491.10" x2="371.9" y2="491.10" stroke="#4a4a4a" stroke-width="1.1"/><text transform="translate(360.5,491.10) rotate(-90)" font-family='"Liberation Sans", sans-serif' font-size="12" text-anchor="middle" fill="#1a1a1a">0</text><line x1="367.4" y1="433.70" x2="371.9" y2="433.70" stroke="#4a4a4a" stroke-width="1.1"/><text transform="translate(360.5,433.70) rotate(-90)" font-family='"Liberation Sans", sans-serif' font-size="12" text-anchor="middle" fill="#1a1a1a">2</text><line x1="367.4" y1="376.30" x2="371.9" y2="376.30" stroke="#4a4a4a" stroke-width="1.1"/><text transform="translate(360.5,376.30) rotate(-90)" font-family='"Liberation Sans", sans-serif' font-size="12" text-anchor="middle" fill="#1a1a1a">4</text><line x1="367.4" y1="318.90" x2="371.9" y2="318.90" stroke="#4a4a4a" stroke-width="1.1"/><text transform="translate(360.5,318.90) rotate(-90)" font-family='"Liberation Sans", sans-serif' font-size="12" text-anchor="middle" fill="#1a1a1a">6</text><text x="503.4" y="587.75" font-family='"Liberation Sans", sans-serif' font-size="14.2" text-anchor="middle" fill="#1a1a1a">stat 6</text><text x="503.75" y="606.0" font-family='"Liberation Serif", serif' font-size="14" letter-spacing="0.5" text-anchor="middle" fill="#1a1a1a">(d)</text><text transform="translate(343.0,433.2) rotate(-90)" font-family='"Liberation Sans", sans-serif' font-size="12.2" text-anchor="middle" fill="#1a1a1a">stat 7</text><rect x="581.5" y="311.8" width="57.10000000000002" height="27.599999999999966" fill="#fff" stroke="#606060" stroke-width="1.1"/><line x1="588.2" y1="321.40000000000003" x2="603.0" y2="321.40000000000003" stroke="#2c2cc0" stroke-width="1.1"/><line x1="588.2" y1="330.6" x2="603.0" y2="330.6" stroke="#c444d4" stroke-width="1.1" stroke-dasharray="2 1.8"/><text x="607.15" y="324.8" font-family='"Liberation Sans", sans-serif' font-size="11" fill="#1a1a1a">equal</text><text x="607.15" y="333.40000000000003" font-family='"Liberation Sans", sans-serif' font-size="11" fill="#1a1a1a">adapt</text></g></svg></body></html>
